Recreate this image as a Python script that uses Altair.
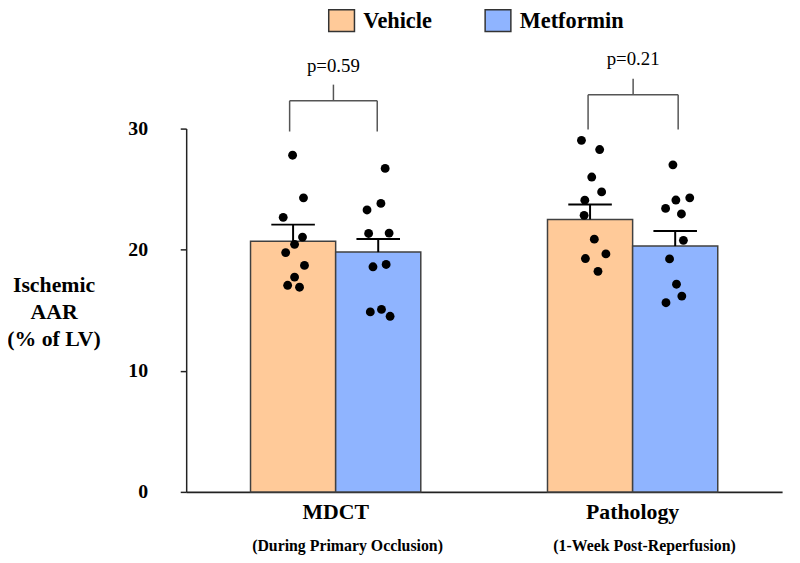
import altair as alt
import pandas as pd

# ---------------- data ----------------
GROUPS = ["MDCT", "Pathology"]
SUBLABELS = ["(During Primary Occlusion)", "(1-Week Post-Reperfusion)"]
TREATMENTS = ["Vehicle", "Metformin"]
P_LABELS = ["p=0.59", "p=0.21"]

MEAN_VEHICLE = [20.7, 22.5]
MEAN_METFORMIN = [19.8, 20.3]
SEM_VEHICLE = [1.37, 1.23]
SEM_METFORMIN = [1.08, 1.25]

PTS_MDCT_VEHICLE = [27.80, 24.28, 22.67, 21.04, 20.44, 19.76, 18.70, 17.74, 17.06, 16.90]
PTS_MDCT_METFORMIN = [26.71, 23.82, 23.28, 21.34, 21.37, 18.59, 18.78, 14.86, 15.07, 14.50]
PTS_PATH_VEHICLE = [29.03, 28.27, 26.00, 24.77, 24.09, 22.84, 20.87, 19.65, 19.27, 18.21]
PTS_PATH_METFORMIN = [27.01, 24.10, 24.28, 23.41, 22.95, 20.77, 19.24, 17.15, 16.17, 15.62]

# ---------------- layout / style ----------------
W, H = 602, 367
GROUP_X = [151, 451]          # x position (plot units) of each group centre
SUB_SHIFT = 12                # sub-labels sit slightly right of the group centre
BAR_W = 86
CAP_HALF = 22
JIT_MDCT_VEHICLE = [-0.5, 10.5, -10, 9.5, 1.5, -7.5, 11.5, 1.5, -5.5, 6.5]
JIT_MDCT_METFORMIN = [7, 2.7, -11.3, -9.7, 11, -5.3, 8, -8, 3.3, 12]
JIT_PATH_VEHICLE = [-8.7, 9.7, 1.7, 11.7, -5.3, -6, 4.3, 16, -4.7, 8]
JIT_PATH_METFORMIN = [-2.3, 0.7, 14.7, -9.7, 6.3, 8.3, -5.7, 1.3, 6.7, -9.3]
BR_LEG_SHIFT = [(-3.5, -1), (-2, 3)]
BR_BASE = [29.76, 29.93]
BR_TOP = [32.3, 32.8]
STEM_TOP = [33.63, 34.12]
P_Y = [35.2, 35.75]
COLORS = ["#FFCA99", "#8FB4FF"]
FONT = "Liberation Serif"

# ---------------- tables ----------------
bars = []
means = [MEAN_VEHICLE, MEAN_METFORMIN]
sems = [SEM_VEHICLE, SEM_METFORMIN]
for gi, g in enumerate(GROUPS):
    for ti, t in enumerate(TREATMENTS):
        left = GROUP_X[gi] - BAR_W + ti * BAR_W
        c = left + BAR_W / 2
        m = means[ti][gi]
        s = sems[ti][gi]
        bars.append(dict(group=g, treatment=t, x=left, x2=left + BAR_W, xc=c,
                         mean=m, top=m + s, cl=c - CAP_HALF, cr=c + CAP_HALF))
bars = pd.DataFrame(bars)

pts = []
sets = [(0, 0, PTS_MDCT_VEHICLE, JIT_MDCT_VEHICLE), (0, 1, PTS_MDCT_METFORMIN, JIT_MDCT_METFORMIN),
        (1, 0, PTS_PATH_VEHICLE, JIT_PATH_VEHICLE), (1, 1, PTS_PATH_METFORMIN, JIT_PATH_METFORMIN)]
for gi, ti, vals, jit in sets:
    c = GROUP_X[gi] - BAR_W / 2 + ti * BAR_W
    for v, j in zip(vals, jit):
        pts.append(dict(x=c + j, v=v))
pts = pd.DataFrame(pts)

segs = []
ptxt = []
for gi in range(len(GROUPS)):
    xl = GROUP_X[gi] - BAR_W / 2 + BR_LEG_SHIFT[gi][0]
    xr = GROUP_X[gi] + BAR_W / 2 + BR_LEG_SHIFT[gi][1]
    xm = (xl + xr) / 2
    segs.append(dict(x=xl, x2=xl, y=BR_BASE[gi], y2=BR_TOP[gi]))
    segs.append(dict(x=xr, x2=xr, y=BR_BASE[gi], y2=BR_TOP[gi]))
    segs.append(dict(x=xl, x2=xr, y=BR_TOP[gi], y2=BR_TOP[gi]))
    segs.append(dict(x=xm, x2=xm, y=BR_TOP[gi], y2=STEM_TOP[gi]))
    ptxt.append(dict(x=xm, y=P_Y[gi], label=P_LABELS[gi]))
segs = pd.DataFrame(segs)
ptxt = pd.DataFrame(ptxt)

labels = pd.DataFrame(dict(x=GROUP_X, xs=[g + SUB_SHIFT for g in GROUP_X],
                           group=GROUPS, sub=SUBLABELS))

xs = alt.Scale(domain=[0, W], nice=False, zero=False)
ys = alt.Scale(domain=[0, 30], nice=False)

X_AXIS = alt.Axis(labels=False, ticks=False, title=None, grid=False,
                  domainColor="#222", domainWidth=2)
Y_AXIS = alt.Axis(values=[0, 10, 20, 30], grid=False, tickSize=6, tickColor="#222",
                  tickWidth=1.5, domainColor="#222", domainWidth=1.5,
                  labelFont=FONT, labelFontSize=20, labelFontWeight="bold",
                  labelColor="black", labelPadding=33,
                  title=["Ischemic", "AAR", "(% of LV)"], titleAngle=0,
                  titleFont=FONT, titleFontSize=22, titleFontWeight="bold",
                  titleColor="black", titleAlign="center", titleBaseline="middle",
                  titleLineHeight=27, titleX=-134, titleY=158)

legend = alt.Legend(orient="none", legendX=143, legendY=-123, direction="horizontal",
                    title=None, symbolType="M-1,-0.846L1,-0.846L1,0.846L-1,0.846Z",
                    symbolSize=676, symbolStrokeColor="#333", symbolStrokeWidth=1.5,
                    symbolOpacity=1, labelFont=FONT, labelFontSize=22.5,
                    labelFontWeight="bold", labelColor="black", labelOffset=8,
                    columnPadding=50, padding=0)

bar_layer = alt.Chart(bars).mark_bar(stroke="#404040", strokeWidth=1.5).encode(
    x=alt.X("x:Q", scale=xs, axis=X_AXIS),
    x2="x2:Q",
    y=alt.Y("mean:Q", scale=ys, axis=Y_AXIS),
    y2=alt.datum(0),
    color=alt.Color("treatment:N", scale=alt.Scale(domain=TREATMENTS, range=COLORS),
                    legend=legend),
)

err_stem = alt.Chart(bars).mark_rule(color="black", strokeWidth=2).encode(
    x=alt.X("xc:Q", scale=xs), y=alt.Y("mean:Q", scale=ys), y2="top:Q")
err_cap = alt.Chart(bars).mark_rule(color="black", strokeWidth=2).encode(
    x=alt.X("cl:Q", scale=xs), x2="cr:Q", y=alt.Y("top:Q", scale=ys))

points = alt.Chart(pts).mark_circle(size=80, color="black", opacity=1).encode(
    x=alt.X("x:Q", scale=xs), y=alt.Y("v:Q", scale=ys))

brackets = alt.Chart(segs).mark_rule(color="#555", strokeWidth=1.5).encode(
    x=alt.X("x:Q", scale=xs), x2="x2:Q", y=alt.Y("y:Q", scale=ys), y2="y2:Q")

ptext = alt.Chart(ptxt).mark_text(font=FONT, fontSize=19, color="black",
                                  baseline="middle").encode(
    x=alt.X("x:Q", scale=xs), y=alt.Y("y:Q", scale=ys), text="label:N")

main_lbl = alt.Chart(labels).mark_text(font=FONT, fontSize=22, fontWeight="bold",
                                       color="black", baseline="middle").encode(
    x=alt.X("x:Q", scale=xs), y=alt.value(H + 20), text="group:N")
sub_lbl = alt.Chart(labels).mark_text(font=FONT, fontSize=16, fontWeight="bold",
                                      color="black", baseline="middle").encode(
    x=alt.X("xs:Q", scale=xs), y=alt.value(H + 55), text="sub:N")

chart = alt.layer(bar_layer, err_stem, err_cap, points, brackets, ptext,
                  main_lbl, sub_lbl).properties(
    width=W, height=H,
    autosize=alt.AutoSizeParams(type="none"),
    padding={"left": 180, "top": 119, "right": 10, "bottom": 68},
).configure(font=FONT, background="white").configure_view(strokeWidth=0)

chart.save("out.html", embed_options={"renderer": "svg", "actions": False})
